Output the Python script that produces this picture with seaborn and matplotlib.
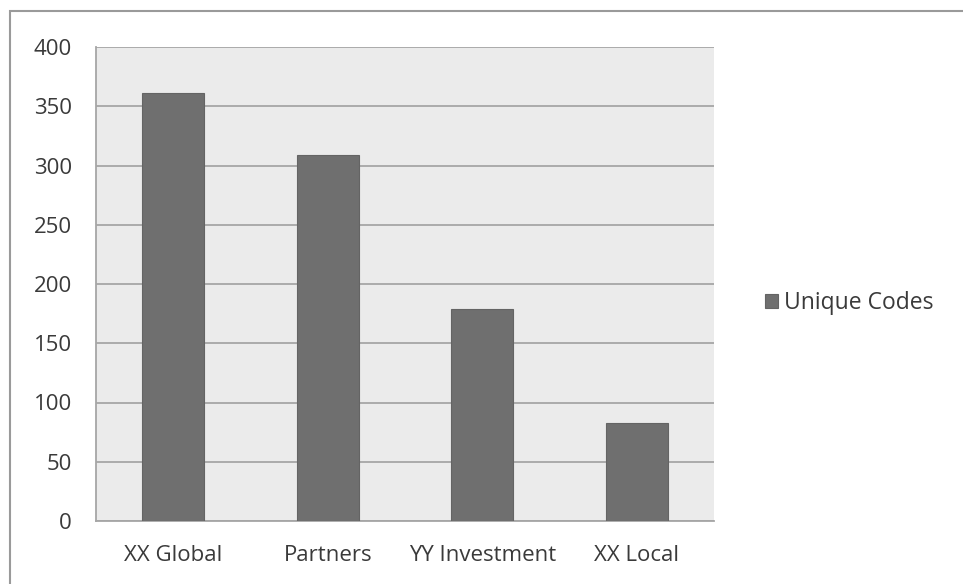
import matplotlib
matplotlib.use("Agg")
import matplotlib.pyplot as plt
import seaborn as sns
import pandas as pd
from matplotlib.patches import Rectangle

categories = ["XX Global", "Partners", "YY Investment", "XX Local"]
unique_codes = [361, 309, 179, 83]
series_name = "Unique Codes"
y_ticks = [0, 50, 100, 150, 200, 250, 300, 350, 400]

df = pd.DataFrame({"Category": categories, "Value": unique_codes, "Series": series_name})

sns.set_style("white")
plt.rcParams["font.family"] = ["Open Sans", "DejaVu Sans"]

fig = plt.figure(figsize=(9.63, 5.84), dpi=100)
ax = fig.add_axes([96/963, 63/584, (714-96)/963, (521-47)/584])

bar_color = "#6f6f6f"
sns.barplot(data=df, x="Category", y="Value", hue="Series", palette=[bar_color],
            width=0.4, ax=ax, edgecolor="#646464", linewidth=0.8, zorder=3)

ax.set_facecolor("#ebebeb")
ax.set_ylim(0, 400)
ax.set_xlim(-0.5, 3.5)
ax.set_yticks(y_ticks)
ax.yaxis.grid(True, color="#a6a6a6", linewidth=1.3, zorder=0)
ax.set_axisbelow(True)
ax.set_xlabel("")
ax.set_ylabel("")

for s in ["top", "right"]:
    ax.spines[s].set_visible(False)
for s in ["left", "bottom"]:
    ax.spines[s].set_color("#a6a6a6")
    ax.spines[s].set_linewidth(1.3)

text_color = "#3a3a3a"
ax.tick_params(axis="y", length=6.5, width=1.0, color="#a6a6a6", pad=11,
               labelsize=16, labelcolor=text_color)
ax.tick_params(axis="x", which="major", length=0, pad=17,
               labelsize=16, labelcolor=text_color)
ax.set_xticks([-0.5, 0.5, 1.5, 2.5, 3.5], minor=True)
ax.tick_params(axis="x", which="minor", length=5, width=1.0, color="#a6a6a6")

leg = ax.legend(loc="center left", bbox_to_anchor=(1.0825, 0.46), frameon=False,
                fontsize=16.5, handlelength=0.55, handleheight=0.55,
                handletextpad=0.3, borderpad=0, borderaxespad=0,
                labelcolor=text_color)

# outer chart frame
fig.patches.append(Rectangle((10/963, -0.05), 1.1, (584-11)/584 + 0.05,
                             transform=fig.transFigure, fill=False,
                             edgecolor="#9a9a9a", linewidth=1.5))

fig.savefig("out.png", dpi=100, facecolor="white")
